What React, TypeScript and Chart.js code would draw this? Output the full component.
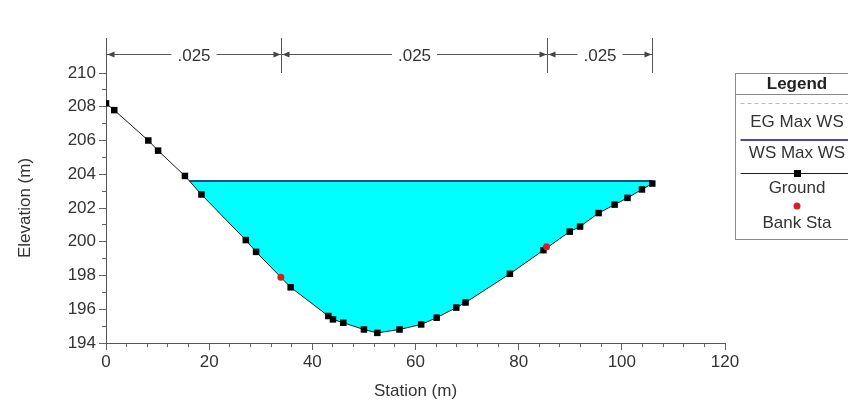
import { useEffect, useRef } from 'react';
import { Chart, registerables } from 'chart.js';

Chart.register(...registerables);

// ---- data ----
const stations = [0, 1.6, 8.2, 10.1, 15.3, 18.5, 27.1, 29.1, 35.8, 43.1, 44.0, 46.0, 50.0, 52.6, 56.9, 61.1, 64.1, 67.9, 69.7, 78.3, 84.8, 89.9, 91.9, 95.5, 98.6, 101.1, 103.9, 105.9];
const elevations = [208.2, 207.8, 206.0, 205.4, 203.9, 202.8, 200.1, 199.4, 197.3, 195.6, 195.4, 195.2, 194.8, 194.6, 194.8, 195.1, 195.5, 196.1, 196.4, 198.1, 199.5, 200.6, 200.9, 201.7, 202.2, 202.6, 203.1, 203.45];
const bankStations = [33.9, 85.4];
const bankElevations = [197.9, 199.7];
const wsElevation = 203.6;
const egElevation = 203.63;
const nBreaks = [0, 33.9, 85.4, 105.9];
const nValues = ['.025', '.025', '.025'];
const legendTitle = 'Legend';
const legendLabels = ['EG Max WS', 'WS Max WS', 'Ground', 'Bank Sta'];
const xTitle = 'Station (m)';
const yTitle = 'Elevation (m)';

const FONT = '"Liberation Sans", Arial, sans-serif';

function waterPoints() {
  const pts: { x: number; y: number }[] = [];
  const n = stations.length;
  for (let i = 0; i < n; i++) {
    const e = elevations[i];
    if (i > 0) {
      const pe = elevations[i - 1];
      if ((pe - wsElevation) * (e - wsElevation) < 0) {
        const t = (wsElevation - pe) / (e - pe);
        pts.push({ x: stations[i - 1] + t * (stations[i] - stations[i - 1]), y: wsElevation });
      }
    }
    if (e <= wsElevation) pts.push({ x: stations[i], y: e });
  }
  if (elevations[n - 1] < wsElevation) pts.push({ x: stations[n - 1], y: wsElevation });
  return pts;
}

const overlayPlugin = {
  id: 'overlay',
  afterDraw(chart: any) {
    const { ctx, chartArea, scales } = chart;
    const x = scales.x;
    const top = chartArea.top;
    const yLine = top - 18.5;
    ctx.save();
    // Manning's n annotations
    ctx.strokeStyle = '#555';
    ctx.fillStyle = '#555';
    ctx.lineWidth = 1;
    const px = nBreaks.map((s) => Math.round(x.getPixelForValue(s)) + 0.5);
    px.forEach((p) => {
      ctx.beginPath();
      ctx.moveTo(p, top - 35);
      ctx.lineTo(p, top);
      ctx.stroke();
    });
    ctx.font = '17px ' + FONT;
    ctx.textAlign = 'center';
    ctx.textBaseline = 'middle';
    for (let i = 0; i < nValues.length; i++) {
      const a = px[i];
      const b = px[i + 1];
      const mid = (a + b) / 2;
      const tw = ctx.measureText(nValues[i]).width;
      ctx.strokeStyle = '#555';
      ctx.beginPath();
      ctx.moveTo(a, yLine);
      ctx.lineTo(mid - tw / 2 - 6, yLine);
      ctx.moveTo(mid + tw / 2 + 6, yLine);
      ctx.lineTo(b, yLine);
      ctx.stroke();
      ctx.fillStyle = '#444';
      ctx.beginPath();
      ctx.moveTo(a + 1, yLine);
      ctx.lineTo(a + 8, yLine - 3);
      ctx.lineTo(a + 8, yLine + 3);
      ctx.closePath();
      ctx.fill();
      ctx.beginPath();
      ctx.moveTo(b - 1, yLine);
      ctx.lineTo(b - 8, yLine - 3);
      ctx.lineTo(b - 8, yLine + 3);
      ctx.closePath();
      ctx.fill();
      ctx.fillStyle = '#333';
      ctx.fillText(nValues[i], mid, yLine + 2);
    }

    // Legend box
    const bx = 735.5;
    const by = 73.5;
    const bw = 130;
    const cx = 797;
    ctx.strokeStyle = '#888';
    ctx.lineWidth = 1;
    ctx.strokeRect(bx, by, bw, 166);
    ctx.beginPath();
    ctx.moveTo(bx, 94.5);
    ctx.lineTo(bx + bw, 94.5);
    ctx.stroke();
    ctx.fillStyle = '#222';
    ctx.font = 'bold 17px ' + FONT;
    ctx.fillText(legendTitle, cx, 84);
    ctx.font = '17px ' + FONT;
    // EG
    ctx.strokeStyle = '#bbb';
    ctx.setLineDash([4, 3]);
    ctx.beginPath();
    ctx.moveTo(bx + 5, 103.5);
    ctx.lineTo(bx + bw, 103.5);
    ctx.stroke();
    ctx.setLineDash([]);
    ctx.fillStyle = '#333';
    ctx.fillText(legendLabels[0], cx, 122);
    // WS
    ctx.strokeStyle = '#4848b0';
    ctx.lineWidth = 2;
    ctx.beginPath();
    ctx.moveTo(bx + 5, 140);
    ctx.lineTo(bx + bw, 140);
    ctx.stroke();
    ctx.fillText(legendLabels[1], cx, 153);
    // Ground
    ctx.strokeStyle = '#222';
    ctx.lineWidth = 1;
    ctx.beginPath();
    ctx.moveTo(bx + 5, 173.5);
    ctx.lineTo(bx + bw, 173.5);
    ctx.stroke();
    ctx.fillStyle = '#000';
    ctx.fillRect(cx - 3, 170, 7, 7);
    ctx.fillStyle = '#333';
    ctx.fillText(legendLabels[2], cx, 188);
    // Bank Sta
    ctx.fillStyle = '#d42020';
    ctx.beginPath();
    ctx.arc(cx, 206, 3.5, 0, Math.PI * 2);
    ctx.fill();
    ctx.fillStyle = '#333';
    ctx.fillText(legendLabels[3], cx, 223);
    ctx.restore();
  },
};

export default function App() {
  const ref = useRef<HTMLCanvasElement | null>(null);
  useEffect(() => {
    if (!ref.current) return;
    const water = waterPoints();
    const wsStart = water[0].x;
    const wsEnd = water[water.length - 1].x;
    const tickFont = { family: FONT, size: 17 };
    const chart = new Chart(ref.current, {
      type: 'scatter',
      data: {
        datasets: [
          {
            label: 'Bank Sta',
            data: bankStations.map((s, i) => ({ x: s, y: bankElevations[i] })),
            pointRadius: 3.5,
            pointBackgroundColor: '#d42020',
            pointBorderWidth: 0,
            showLine: false,
            order: 0,
          },
          {
            label: 'Ground',
            data: stations.map((s, i) => ({ x: s, y: elevations[i] })),
            showLine: true,
            borderColor: '#1a1a1a',
            borderWidth: 1,
            pointStyle: 'rect',
            pointRadius: 4.6,
            pointBackgroundColor: '#000',
            pointBorderWidth: 0,
            tension: 0,
            order: 1,
          },
          {
            label: 'WS Max WS',
            data: [{ x: wsStart, y: wsElevation }, { x: wsEnd, y: wsElevation }],
            showLine: true,
            borderColor: '#2c4a78',
            borderWidth: 2,
            pointRadius: 0,
            order: 2,
          },
          {
            label: 'EG Max WS',
            data: [{ x: wsStart, y: egElevation }, { x: wsEnd, y: egElevation }],
            showLine: true,
            borderColor: '#9aa',
            borderDash: [4, 3],
            borderWidth: 1,
            pointRadius: 0,
            order: 3,
          },
          {
            label: 'water',
            data: water,
            showLine: true,
            borderWidth: 0,
            borderColor: 'rgba(0,0,0,0)',
            backgroundColor: '#00ffff',
            fill: { value: wsElevation },
            pointRadius: 0,
            order: 4,
          },
        ],
      },
      options: {
        responsive: false,
        animation: false,
        layout: { padding: { top: 73, right: 123, left: 0, bottom: 0 } },
        plugins: { legend: { display: false }, tooltip: { enabled: false }, title: { display: false } },
        scales: {
          x: {
            type: 'linear',
            min: 0,
            max: 120,
            weight: 1,
            afterFit: (s: any) => {
              s.height = 59;
            },
            ticks: {
              stepSize: 20,
              autoSkip: false,
              maxRotation: 0,
              padding: 2,
              color: '#333',
              font: tickFont,
            },
            grid: { drawOnChartArea: false, tickLength: 7, color: '#666' },
            border: { display: true, color: '#555' },
            title: {
              display: true,
              text: xTitle,
              color: '#333',
              font: { family: FONT, size: 17 },
              padding: { top: 0, bottom: 0 },
            },
          },
          xMinor: {
            type: 'linear',
            position: 'bottom',
            min: 0,
            max: 120,
            weight: 0,
            afterFit: (s: any) => {
              s.height = 0;
            },
            ticks: { stepSize: 4, autoSkip: false, maxRotation: 0, padding: 0, callback: () => '' },
            grid: { drawOnChartArea: false, tickLength: 4, color: '#666' },
            border: { display: true, color: '#555' },
          },
          y: {
            type: 'linear',
            min: 194,
            max: 210,
            weight: 1,
            afterFit: (s: any) => {
              s.width = 106;
            },
            ticks: {
              stepSize: 2,
              autoSkip: false,
              padding: 3,
              color: '#333',
              font: tickFont,
            },
            grid: { drawOnChartArea: false, tickLength: 7, color: '#666' },
            border: { display: true, color: '#555' },
            title: {
              display: true,
              text: yTitle,
              color: '#333',
              font: { family: FONT, size: 17 },
              padding: { top: 15, bottom: 0 },
            },
          },
          yMinor: {
            type: 'linear',
            position: 'left',
            min: 194,
            max: 210,
            weight: 0,
            afterFit: (s: any) => {
              s.width = 0;
            },
            ticks: { stepSize: 1, autoSkip: false, padding: 0, callback: () => '' },
            grid: { drawOnChartArea: false, tickLength: 4, color: '#666' },
            border: { display: true, color: '#555' },
          },
        },
      },
      plugins: [overlayPlugin],
    });
    return () => chart.destroy();
  }, []);
  return (
    <div style={{ position: 'fixed', left: 0, top: 0, width: 848, height: 402, background: '#fff' }}>
      <canvas ref={ref} width={848} height={402} style={{ display: 'block' }} />
    </div>
  );
}
